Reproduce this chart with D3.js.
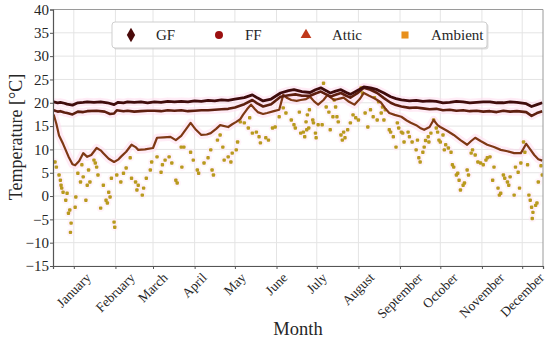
<!DOCTYPE html>
<html><head><meta charset="utf-8">
<script src="https://cdn.jsdelivr.net/npm/d3@7"></script>
<style>
body{margin:0;background:#fff}
svg{display:block}
svg text{font-family:"Liberation Serif","Times New Roman",serif !important;fill:#262626}
</style>
</head><body>
<svg id="c" width="550" height="343"></svg>
<script>
const months = ["January","February","March","April","May","June","July","August","September","October","November","December"];
const monthTickDays = [15,46,74,105,135,166,196,227,258,288,319,349];
const yTicks = [-15,-10,-5,0,5,10,15,20,25,30,35,40];

const gfDays = [0,3,5,8,10,14,18,22,25,30,35,40,45,48,52,55,60,65,70,75,80,85,90,95,100,105,110,115,120,125,130,135,142,148,152,156,162,169,175,179,185,191,195,199,203,206,210,214,218,221,226,231,236,241,246,251,255,259,265,270,275,280,285,290,295,300,305,310,315,320,325,330,335,340,345,352,356,360,364];
const gfTemps = [20.2,20.0,20.1,19.9,19.7,19.5,20.0,20.1,20.2,20.1,20.2,20.0,19.6,20.1,20.0,20.2,20.1,20.2,20.0,20.2,20.1,20.3,20.2,20.3,20.2,20.4,20.3,20.5,20.4,20.6,20.5,20.8,21.1,21.7,21.0,20.4,20.8,22.1,22.6,22.8,22.4,22.2,22.8,23.2,22.6,22.1,22.5,22.8,22.2,21.8,22.6,23.4,23.2,22.8,22.1,21.3,20.9,20.6,20.4,20.5,20.3,20.4,20.3,20.0,20.1,20.3,20.2,20.0,20.1,20.2,20.2,20.0,20.0,20.2,20.1,19.8,19.2,19.6,20.0];

const ffDays = [0,3,5,8,10,14,18,22,25,32,38,42,45,47,52,55,60,65,70,75,80,85,90,95,100,105,110,115,120,125,130,135,142,148,152,156,162,169,175,180,185,191,195,199,203,206,210,214,218,221,226,231,236,241,246,251,255,259,265,270,275,280,285,290,295,300,305,310,315,320,325,330,335,340,345,352,356,360,364];
const ffTemps = [18.4,18.1,18.2,17.9,17.8,17.5,18.1,18.0,18.2,18.3,18.1,17.6,17.7,18.4,18.2,18.3,18.1,18.2,18.3,18.3,18.2,18.4,18.3,18.4,18.2,18.3,18.4,18.4,18.5,18.6,18.7,19.0,19.7,20.6,19.8,19.2,19.7,21.3,21.6,21.8,21.5,21.5,22.0,22.4,21.8,21.3,21.7,22.1,21.5,21.1,22.0,23.2,22.8,22.1,21.0,20.0,19.5,19.2,18.9,19.0,18.8,18.6,18.7,18.4,18.5,18.3,18.4,18.2,18.3,18.1,18.2,18.0,18.3,18.1,18.2,18.0,17.2,17.8,18.2];

const atticDays = [0,2,4,7,11,14,16,19,22,25,28,32,35,37,41,45,48,50,54,58,61,63,68,74,77,82,87,91,95,97,102,106,110,114,117,121,124,130,133,136,139,141,144,147,150,152,156,159,164,168,171,174,177,181,184,188,191,194,197,201,204,207,209,213,216,220,224,228,231,235,238,241,244,247,250,254,259,263,266,270,273,276,280,283,286,288,293,298,303,308,311,314,318,323,328,333,338,343,348,350,352,355,358,361,364];
const atticTemps = [17.5,15.5,13.0,11.2,8.5,6.8,6.6,7.5,9.2,8.4,8.8,10.3,9.8,9.2,8.0,7.3,7.8,8.4,9.5,11.0,10.5,9.9,10.0,10.3,12.5,12.6,12.7,12.0,12.9,13.7,15.7,14.2,13.1,13.2,13.5,14.4,15.2,14.8,15.4,15.9,16.5,17.4,18.6,19.6,18.6,18.0,17.6,17.8,18.2,18.5,21.7,21.0,20.6,20.4,20.6,20.8,21.3,20.3,19.6,20.6,21.7,21.0,20.6,20.9,21.1,20.2,19.6,20.8,22.1,21.5,21.1,20.6,20.0,18.8,17.8,17.4,17.0,16.2,15.7,15.2,14.6,14.2,14.8,16.3,15.2,14.8,14.0,13.1,12.0,11.0,11.8,12.5,11.8,11.0,10.5,9.9,9.6,9.2,9.2,10.2,11.2,10.0,8.8,7.9,7.6];

const ambientDays = [1,2,4,5,5.5,6,7,9,10,11,12,13,12.5,16,16.5,18,20,21,22,24,25,26,27,30,31,32,33,35,37,39,40,41,42,43,45,45.5,47,50,52,54,57,58,61,62,63,66,67,69,72,73,77,80,81,83,86,88,91,92,95,95.5,
97,102,104,107,108,112,115,117,118,119,122,124,126,127,130,132,133,136,137,139,142,145,146,148,151,153,154,158,160,163,165,168,171,173,177,179,180,183,184,186,188,190,
187,188.5,189,190.5,193,193.5,195,195.5,197,200,201,203,205,206,208,209,210,211,212,214,215,216,217,219,221,223,225,227,229,230,232,234,236,238,239,241,242,244,245,246,247,250,251,253,255,256,257,259,260,261,264,265,267,270,271,272,273,275,276,279,279.5,
277,281,283,285,286,287,288,290,291,292,294,296,297,298,300,301,302,303,305,306,308,309,311,312,314,316,318,320,322,323,325,327,328,331,332,333,335,336,338,339,340,343,344,346,347,348,350,351,353,354,355,356,356.5,357,359,360,361,363,364];
const ambientTemps = [7.3,6.2,4.5,3.4,2.3,1.7,0.8,-0.9,0.6,-3.7,-3.0,-5.8,-7.8,-2.4,-0.2,4.9,3.0,6.7,4.1,-0.9,2.3,5.6,3.0,7.7,7.1,6.2,4.5,-2.6,2.3,-0.9,-1.5,0.8,-0.2,3.8,-5.6,-6.7,4.5,3.0,4.9,6.0,8.2,3.8,3.0,1.3,2.3,0.2,1.7,3.8,5.6,7.3,8.4,5.1,6.7,7.7,8.4,7.1,3.4,2.8,10.5,6.2,
10.5,9.4,7.7,5.6,4.9,7.1,8.2,9.9,5.6,4.5,12.0,13.1,10.5,7.7,8.4,7.3,9.2,9.9,11.6,15.9,15.7,14.6,16.8,13.5,13.7,12.7,11.4,12.5,12.0,14.6,14.8,17.0,18.9,17.8,16.3,15.3,14.6,18.0,13.5,13.7,15.9,14.6,
12.7,14.2,17.4,18.5,16.3,15.7,13.5,12.5,15.3,15.3,24.2,19.1,18.0,14.2,17.0,20.6,19.1,17.0,15.9,13.1,12.0,13.7,12.5,14.2,15.7,17.4,16.8,16.3,23.2,22.1,17.8,14.8,18.5,17.0,21.1,16.3,20.2,17.8,19.1,16.3,18.5,14.2,13.7,12.7,10.5,15.7,14.6,13.7,13.5,11.6,13.7,12.7,11.6,9.9,12.0,8.2,7.3,9.4,10.5,12.7,11.6,
11.9,13.5,16.3,14.6,13.7,12.0,11.6,13.1,9.9,11.0,10.3,9.4,6.7,6.2,4.5,4.9,3.4,1.3,2.3,2.8,5.6,4.5,9.2,9.9,8.8,7.3,7.1,6.7,7.7,8.2,8.4,3.4,6.2,1.7,0.2,0.6,4.5,3.8,3.0,2.3,4.1,0.2,6.2,5.1,1.7,7.1,11.6,9.4,6.7,0.2,-0.9,-2.4,-4.8,-3.5,-2.0,-1.5,3.0,6.5,4.5];

const L = 53, R = 543, T = 9.5, B = 266;
const SERIF = '"Liberation Serif","Times New Roman",serif';
const svg = d3.select("#c");
const x = d3.scaleLinear([-0.5, 364.5], [L, R]);
const y = d3.scaleLinear([-15, 40], [B, T]);

// grid
const g = svg.append("g");
g.selectAll(".hg").data(yTicks).join("line")
  .attr("x1", L).attr("x2", R).attr("y1", d => y(d)).attr("y2", d => y(d))
  .attr("stroke", "#e4e4e4").attr("stroke-width", 1);
g.selectAll(".vg").data(monthTickDays).join("line")
  .attr("x1", d => x(d)).attr("x2", d => x(d)).attr("y1", T).attr("y2", B)
  .attr("stroke", "#e4e4e4").attr("stroke-width", 1);

svg.append("clipPath").attr("id", "pc").append("rect")
  .attr("x", L).attr("y", T).attr("width", R - L).attr("height", B - T);
const plot = svg.append("g").attr("clip-path", "url(#pc)");

const line = d3.line().x(d => x(d[0])).y(d => y(d[1]));
const series = [
  {days: gfDays, temps: gfTemps, color: "#3f0c0c", w: 2.8},
  {days: ffDays, temps: ffTemps, color: "#5e1f0f", w: 2.6},
  {days: atticDays, temps: atticTemps, color: "#7e3814", w: 2.2}
];
const amb = ambientDays.map((d, i) => [d, ambientTemps[i]]);

// pink halos
series.forEach(s => {
  plot.append("path").datum(s.days.map((d, i) => [d, s.temps[i]]))
    .attr("d", line).attr("fill", "none").attr("stroke", "#ffd9ee")
    .attr("stroke-width", 8).attr("stroke-linejoin", "round").attr("opacity", 0.5);
});
plot.selectAll(".ah").data(amb).join("circle")
  .attr("cx", d => x(d[0])).attr("cy", d => y(d[1])).attr("r", 3.8)
  .attr("fill", "#ffe6f3").attr("opacity", 0.45);

// ambient points
plot.selectAll(".ap").data(amb).join("rect")
  .attr("x", d => x(d[0]) - 1.7).attr("y", d => y(d[1]) - 1.7)
  .attr("width", 3.4).attr("height", 3.4).attr("rx", 1)
  .attr("fill", "#b89a1e");

// lines
series.slice().reverse().forEach(s => {
  plot.append("path").datum(s.days.map((d, i) => [d, s.temps[i]]))
    .attr("d", line).attr("fill", "none").attr("stroke", s.color)
    .attr("stroke-width", s.w).attr("stroke-linejoin", "round");
});

// frame
svg.append("line").attr("x1", L).attr("x2", R).attr("y1", T).attr("y2", T).attr("stroke", "#9a9a9a");
svg.append("line").attr("x1", R).attr("x2", R).attr("y1", T).attr("y2", B).attr("stroke", "#9a9a9a");

// axes
const yAxis = d3.axisLeft(y).tickValues(yTicks).tickSize(3).tickPadding(1)
  .tickFormat(d => d < 0 ? "\u2212" + Math.abs(d) : String(d));
const ya = svg.append("g").attr("transform", `translate(${L},0)`).call(yAxis)
  .attr("font-family", null).attr("font-size", null);
ya.select(".domain").attr("stroke", "#555").attr("stroke-width", 1.2);
ya.selectAll(".tick line").attr("stroke", "#555");
ya.selectAll("text").style("font-family", SERIF).style("font-size", "15px").attr("fill", "#262626");

const xAxis = d3.axisBottom(x).tickValues(monthTickDays).tickSize(3).tickFormat("");
const xa = svg.append("g").attr("transform", `translate(0,${B})`).call(xAxis);
xa.select(".domain").attr("stroke", "#555").attr("stroke-width", 1.2);
xa.selectAll(".tick line").attr("stroke", "#555");

// rotated month labels
monthTickDays.forEach((d, i) => {
  const t = svg.append("text").text(months[i]).style("font-size", "13.5px")
    .attr("text-anchor", "middle").attr("dy", "0.32em");
  const w = t.node().getComputedTextLength();
  const h = 11;
  const s = (w + h) / Math.SQRT2;
  t.attr("transform", `translate(${x(d)},${271.5 + s / 2}) rotate(-45)`);
});

// axis titles
svg.append("text").text("Temperature [°C]").style("font-size", "18px")
  .attr("text-anchor", "middle").attr("transform", "translate(22,137) rotate(-90)");
svg.append("text").text("Month").style("font-size", "18.5px")
  .attr("text-anchor", "middle").attr("x", 298).attr("y", 335);

// legend
const lg = svg.append("g");
lg.append("rect").attr("x", 113.5).attr("y", 23.5).attr("width", 375).attr("height", 26).attr("rx", 3)
  .attr("fill", "#bbb").attr("opacity", 0.5);
lg.append("rect").attr("x", 112).attr("y", 22).attr("width", 375).attr("height", 26).attr("rx", 3)
  .attr("fill", "#fff").attr("stroke", "#cfcfcf");
const legendNames = ["GF", "FF", "Attic", "Ambient"];
const legendColors = ["#4a0a0a", "#9b1010", "#c0391b", "#e8901c"];
const legendSymbols = [d3.symbolDiamond, d3.symbolCircle, d3.symbolTriangle, d3.symbolSquare];
const legendMarkX = [131, 219, 306, 405];
const legendTextX = [156, 245, 332, 431];
legendNames.forEach((n, i) => {
  lg.append("path").attr("d", d3.symbol(legendSymbols[i], i === 0 ? 60 : 50)())
    .attr("transform", `translate(${legendMarkX[i]},35)`).attr("fill", legendColors[i]);
  lg.append("text").text(n).attr("x", legendTextX[i]).attr("y", 40).style("font-size", "15px");
});
</script>
</body></html>
